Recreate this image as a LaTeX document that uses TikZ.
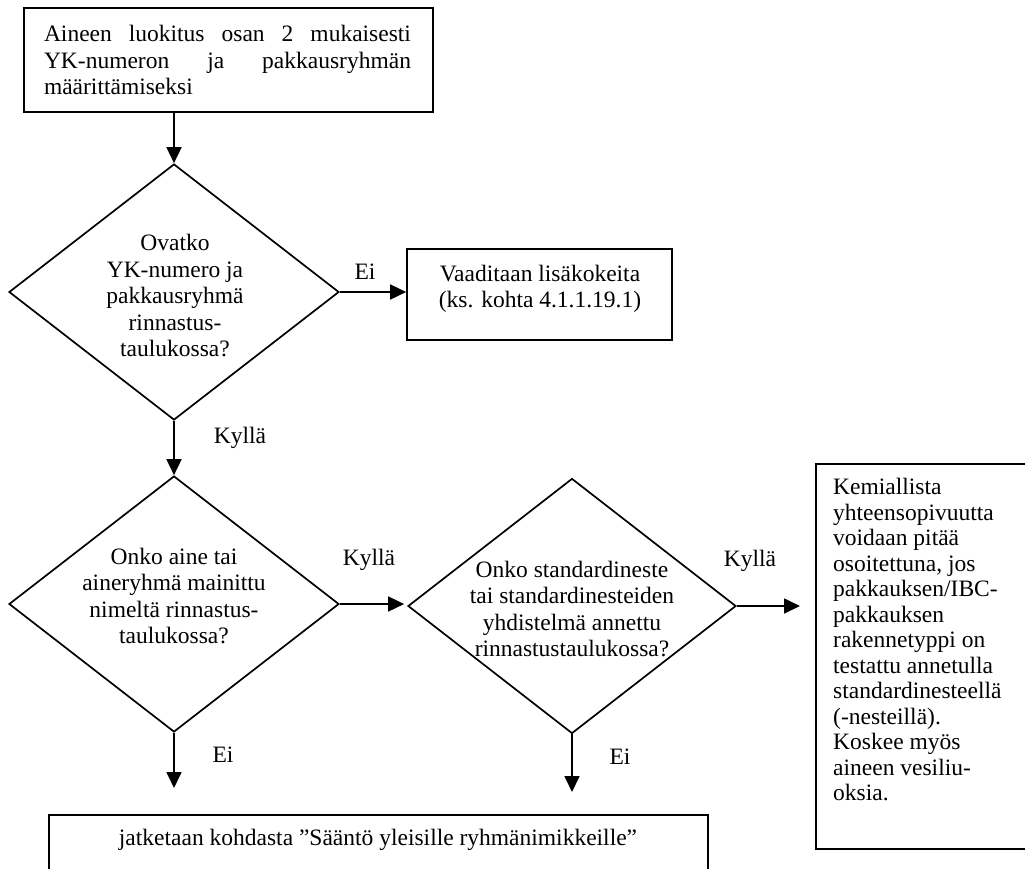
\documentclass[tikz,border=0pt]{standalone}
\usepackage{fontspec}
\setmainfont{Liberation Serif}
\usetikzlibrary{shapes.geometric,arrows.meta}
\hyphenpenalty=10000
\exhyphenpenalty=10000
\begin{document}
\begin{tikzpicture}[x=1pt,y=-1pt,
  every node/.style={font=\fontsize{23.5}{26.5}\selectfont},
  box/.style={draw, line width=1.7pt, rectangle, inner sep=0pt},
  dia/.style={draw, line width=1.7pt, diamond, inner sep=0pt, minimum width=330pt, minimum height=256pt},
  txt/.style={align=center, inner sep=0pt},
  lbl/.style={inner sep=0pt},
  arr/.style={line width=1.7pt, -{Triangle[length=16pt,width=15pt]}}
]
\useasboundingbox (0,0) rectangle (1025,868);
\clip (0,0) rectangle (1025,868);

% top box
\node[box, anchor=north west, minimum width=409pt, minimum height=104pt] (top) at (23,7) {};
\node[inner sep=0pt, text width=367pt, align=left] (toptext) at (227.5,60)
  {Aineen\hfill luokitus\hfill osan\hfill 2\hfill mukaisesti\\YK-numeron\hfill ja\hfill pakkausryhmän\\määrittämiseksi};

% diamonds
\node[dia] (d1) at (174,292) {};
\node[txt] (t1) at (175,296) {Ovatko\\YK-numero ja\\pakkausryhmä\\rinnastus-\\taulukossa?};
\node[dia] (d2) at (174,604) {};
\node[txt] (t2) at (174,596) {Onko aine tai\\aineryhmä mainittu\\nimeltä rinnastus-\\taulukossa?};
\node[dia, minimum width=328pt, minimum height=255pt] (d3) at (572,606) {};
\node[txt] (t3) at (572,609) {Onko standardineste\\tai standardinesteiden\\yhdistelmä annettu\\rinnastustaulukossa?};

% box 2
\node[box, minimum width=265pt, minimum height=91pt] (b2) at (539.5,294.5) {};
\node[txt] (t4) at (540,289) {Vaaditaan lisäkokeita\\(ks. kohta 4.1.1.19.1)};

% right box (clipped at right edge)
\node[box, anchor=north west, minimum width=240pt, minimum height=385pt] (b3) at (815,463) {};
\node[inner sep=0pt, align=left, anchor=north west, font=\fontsize{23.5}{25.5}\selectfont] (t5) at (833,478)
  {Kemiallista\\yhteensopivuutta\\voidaan pitää\\osoitettuna, jos\\pakkauksen/IBC-\\pakkauksen\\rakennetyppi on\\testattu annetulla\\standardinesteellä\\(-nesteillä).\\Koskee myös\\aineen vesiliu-\\oksia.};

% bottom box (clipped at bottom)
\node[box, anchor=north west, minimum width=659pt, minimum height=70pt] (b4) at (48,814) {};
\node[inner sep=0pt] (t6) at (378,840) {jatketaan kohdasta ”Sääntö yleisille ryhmänimikkeille”};

% connectors
\draw[arr] (top.south -| d1.north) -- (d1.north);
\draw[arr] (d1.east) -- (d1.east -| b2.west);
\draw[arr] (d1.south) -- (d2.north);
\draw[arr, shorten >=3pt] (d2.east) -- (d2.east -| d3.west);
\draw[arr, shorten >=15pt] (d3.east) -- (d3.east -| b3.west);
\draw[arr, shorten >=26pt] (d2.south) -- (d2.south |- b4.north);
\draw[arr, shorten >=22pt] (d3.south) -- (d3.south |- b4.north);

% labels
\node[lbl] (l1) at (365,272) {Ei};
\node[lbl] (l2) at (240,438) {Kyllä};
\node[lbl] (l3) at (369,560) {Kyllä};
\node[lbl] (l4) at (750,561) {Kyllä};
\node[lbl] (l5) at (223,755) {Ei};
\node[lbl] (l6) at (620,757) {Ei};
\end{tikzpicture}
\end{document}
